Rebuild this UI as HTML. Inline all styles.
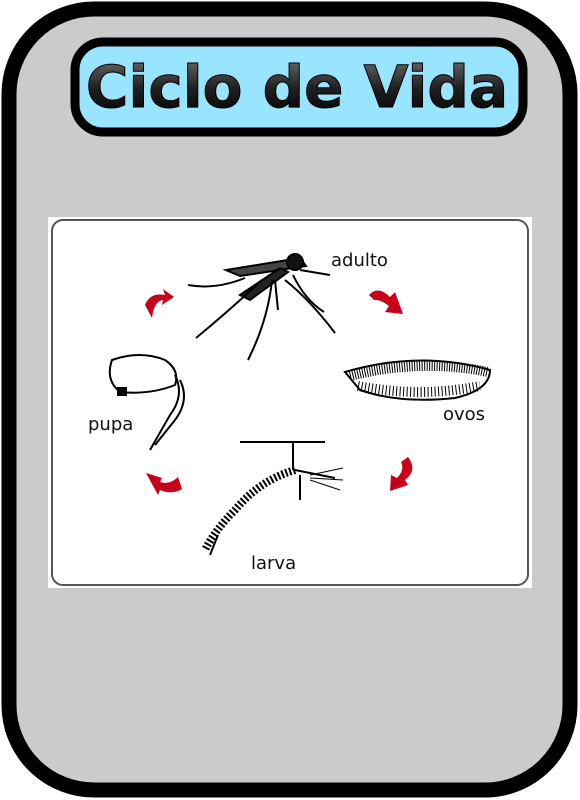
<!DOCTYPE html>
<html><head><meta charset="utf-8"><style>
body{margin:0;width:580px;height:800px;background:#fff;overflow:hidden;font-family:"DejaVu Sans","Liberation Sans",sans-serif}
svg{display:block}
</style></head><body>
<svg width="580" height="800">
<defs>
<linearGradient id="tg" x1="0" y1="0" x2="0" y2="1"><stop offset="0" stop-color="#777"/><stop offset="0.5" stop-color="#222"/><stop offset="1" stop-color="#000"/></linearGradient>
</defs>
<rect x="9" y="9" width="561" height="781" rx="85" fill="#cbcbcb" stroke="#000" stroke-width="15"/>
<rect x="75" y="42" width="448" height="90" rx="28" fill="#99e5ff" stroke="#000" stroke-width="9"/>
<text x="297" y="107" text-anchor="middle" font-family="DejaVu Sans, sans-serif" font-weight="bold" font-size="58" fill="url(#tg)" stroke="#000" stroke-width="1">Ciclo de Vida</text>
<rect x="48" y="217" width="484" height="371" fill="#fff"/>
<rect x="52" y="220" width="476" height="365" rx="11" fill="none" stroke="#555" stroke-width="2"/>
<g stroke="#000" fill="none" stroke-width="2">
<path d="M226 270 L300 258 L306 266 L240 276 Z" fill="#444"/>
<path d="M240 295 L280 268 L288 272 L250 300 Z" fill="#222"/>
<circle cx="295" cy="262" r="8" fill="#111"/>
<path d="M300 270 L330 275"/>
<path d="M188 285 Q215 290 245 278"/>
<path d="M196 338 Q230 310 262 280"/>
<path d="M248 360 Q268 320 272 280"/>
<path d="M275 280 L278 310"/>
<path d="M285 280 Q310 300 335 333"/>
<path d="M293 275 Q305 300 324 312"/>
</g>
<text x="331" y="266" font-size="18" fill="#111">adulto</text>
<g>
<path d="M345 372 Q420 350 490 370 Q490 390 455 398 Q400 404 360 390 Z" fill="#fff" stroke="#000" stroke-width="2"/>
<path d="M350 376 Q420 358 488 372" stroke="#000" stroke-width="10" fill="none" stroke-dasharray="1 1.5"/>
<path d="M358 386 Q420 398 480 386" stroke="#000" stroke-width="10" fill="none" stroke-dasharray="1 2.5"/>
</g>
<text x="443" y="420" font-size="18" fill="#111">ovos</text>
<g stroke="#000" fill="none" stroke-width="2">
<path d="M112 360 Q105 380 120 392 Q150 395 175 385 Q180 370 165 360 Q140 350 112 360 Z"/>
<rect x="118" y="388" width="8" height="7" fill="#000"/>
<path d="M175 375 Q185 395 170 415 L150 450"/>
<path d="M180 380 Q190 400 175 420 L155 445"/>
</g>
<text x="88" y="430" font-size="18" fill="#111">pupa</text>
<g stroke="#000" fill="none" stroke-width="2">
<path d="M240 442 L325 442"/>
<path d="M293 442 L293 470"/>
<path d="M295 470 Q260 480 235 510 Q215 530 205 550" stroke-width="8" stroke-dasharray="2 2"/>
<path d="M295 470 L335 478 M300 475 L300 500 M218 535 L210 555"/>
<path d="M310 475 L343 468 M310 478 L343 480 M310 480 L340 490" stroke-width="1"/>
</g>
<text x="251" y="569" font-size="18" fill="#111">larva</text>
<g fill="#c8001a">
<path d="M145 305 Q150 292 165 295 L163 289 L174 297 L162 305 L163 300 Q154 301 152 318 Z"/>
<path d="M369 295 Q378 285 390 297 L395 292 L403 314 L385 312 L389 306 Q380 299 374 300 Z"/>
<path d="M408 457 Q418 470 405 480 L408 485 L390 491 L391 475 L397 478 Q405 470 401 462 Z"/>
<path d="M146 473 L162 478 L160 482 Q170 485 178 477 L182 489 Q172 495 160 490 L158 495 Z"/>
</g>
</svg>
</body></html>
